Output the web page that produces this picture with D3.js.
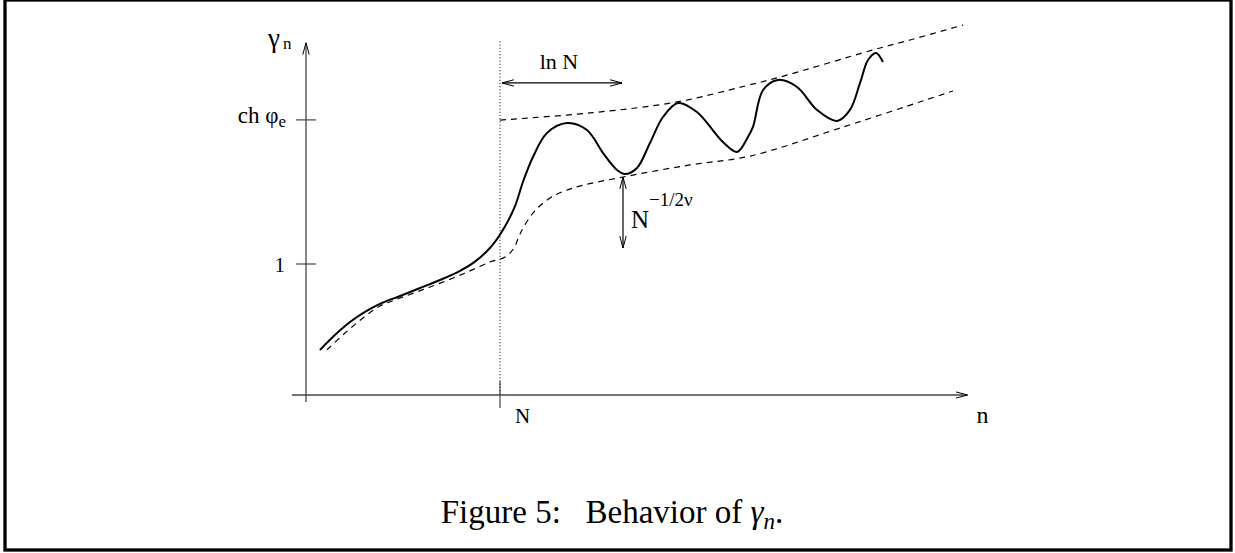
<!DOCTYPE html>
<html>
<head>
<meta charset="utf-8">
<script src="https://cdn.jsdelivr.net/npm/d3@7"></script>
<style>
  body { margin: 0; background: #fff; }
  text { font-family: "Liberation Serif", "Times New Roman", serif; fill: #000; }
</style>
</head>
<body>
<svg id="chart" width="1235" height="553"></svg>
<script>
// n in units of N, gamma in units where the "1" tick = 1
var solidCurve = [
  [0.072, 0.344], [0.149, 0.458], [0.227, 0.557], [0.304, 0.634], [0.381, 0.695],
  [0.485, 0.756], [0.588, 0.817], [0.691, 0.878], [0.794, 0.948], [0.871, 1.018],
  [0.948, 1.122], [1.015, 1.260], [1.077, 1.440], [1.119, 1.630], [1.170, 1.817],
  [1.242, 2.0], [1.345, 2.076], [1.448, 2.023], [1.531, 1.847], [1.603, 1.718],
  [1.644, 1.687], [1.706, 1.733], [1.773, 1.924], [1.840, 2.122], [1.918, 2.229],
  [2.015, 2.160], [2.149, 1.931], [2.222, 1.855], [2.278, 1.969], [2.304, 2.046],
  [2.356, 2.328], [2.433, 2.405], [2.531, 2.351], [2.634, 2.176], [2.737, 2.092],
  [2.804, 2.176], [2.856, 2.382], [2.897, 2.557], [2.938, 2.611], [2.974, 2.542]
];
var upperBound = [
  [1.0, 2.099], [1.464, 2.153], [1.912, 2.237], [2.263, 2.359], [2.443, 2.427],
  [2.923, 2.634], [3.113, 2.710], [3.387, 2.824]
];
var lowerBound = [
  [0.108, 0.344], [0.201, 0.473], [0.294, 0.588], [0.381, 0.679], [0.485, 0.740],
  [0.639, 0.824], [0.809, 0.924], [0.948, 1.015], [1.026, 1.053], [1.072, 1.122],
  [1.103, 1.229], [1.170, 1.389], [1.258, 1.504], [1.376, 1.580], [1.634, 1.664],
  [1.979, 1.756], [2.289, 1.824], [2.753, 2.038], [3.335, 2.321]
];
var yTicks = [1, 2.10];
var xTicks = [1];
var nN = 1;           // position of N on the n axis
var lnNSpan = [1.01, 1.629];
var lnNLevel = 2.382;
var gapAt = 1.634;
var gapSpan = [1.664, 1.122];

var svg = d3.select('#chart');

var x = d3.scaleLinear().domain([0, 1]).range([306, 500]);
var y = d3.scaleLinear().domain([0, 1]).range([395, 264]);

// frame
svg.append('rect')
  .attr('x', 5).attr('y', 0)
  .attr('width', 1226).attr('height', 550)
  .attr('fill', 'none').attr('stroke', '#000').attr('stroke-width', 3.3);

var defs = svg.append('defs');
defs.append('marker')
  .attr('id', 'head')
  .attr('viewBox', '0 0 12 8')
  .attr('refX', 12).attr('refY', 4)
  .attr('markerWidth', 12).attr('markerHeight', 8)
  .attr('markerUnits', 'userSpaceOnUse')
  .attr('orient', 'auto-start-reverse')
  .append('path')
  .attr('d', 'M0,0.8 L12,4 L0,7.2')
  .attr('fill', 'none').attr('stroke', '#000').attr('stroke-width', 1);

var axisColor = '#444';

// axes
svg.append('line')
  .attr('x1', x(-0.072)).attr('x2', x(3.41))
  .attr('y1', y(0)).attr('y2', y(0))
  .attr('stroke', axisColor).attr('stroke-width', 1.3)
  .attr('marker-end', 'url(#head)');
svg.append('line')
  .attr('x1', x(0)).attr('x2', x(0))
  .attr('y1', y(-0.053)).attr('y2', y(2.69))
  .attr('stroke', axisColor).attr('stroke-width', 1.3)
  .attr('marker-end', 'url(#head)');

// y ticks
svg.selectAll('.ytick').data(yTicks).enter().append('line')
  .attr('class', 'ytick')
  .attr('x1', x(0) - 10).attr('x2', x(0) + 10)
  .attr('y1', function(d) { return y(d); })
  .attr('y2', function(d) { return y(d); })
  .attr('stroke', axisColor).attr('stroke-width', 1.2);

// x tick at N
svg.selectAll('.xtick').data(xTicks).enter().append('line')
  .attr('class', 'xtick')
  .attr('x1', function(d) { return x(d); })
  .attr('x2', function(d) { return x(d); })
  .attr('y1', y(0) - 14).attr('y2', y(0) + 13)
  .attr('stroke', axisColor).attr('stroke-width', 1.2);

// dotted vertical line at N
svg.append('line')
  .attr('x1', x(nN)).attr('x2', x(nN))
  .attr('y1', y(2.7)).attr('y2', y(0))
  .attr('stroke', '#333').attr('stroke-width', 1.1)
  .attr('stroke-dasharray', '1.2,2');

// tick labels
svg.append('text')
  .attr('x', x(0) - 21).attr('y', y(1) + 7.5)
  .attr('text-anchor', 'end')
  .style('font-size', '21px')
  .text('1');

var chLabel = svg.append('text')
  .attr('x', x(0) - 20).attr('y', y(2.10) + 3.5)
  .attr('text-anchor', 'end')
  .style('font-size', '23px');
chLabel.append('tspan').text('ch \u03C6');
chLabel.append('tspan').attr('dy', 4).style('font-size', '17px').text('e');

var gLabel = svg.append('text')
  .attr('x', x(0) - 38).attr('y', y(2.655))
  .style('font-size', '27px');
gLabel.append('tspan').text('\u03B3');
gLabel.append('tspan').attr('dx', 3).attr('dy', 2).style('font-size', '17px').text('n');

svg.append('text')
  .attr('x', x(nN) + 15).attr('y', y(0) + 28)
  .style('font-size', '21px')
  .text('N');
svg.append('text')
  .attr('x', x(3.41) + 9).attr('y', y(0) + 28)
  .style('font-size', '24px')
  .text('n');

// curves
var line = d3.line()
  .x(function(d) { return x(d[0]); })
  .y(function(d) { return y(d[1]); })
  .curve(d3.curveCatmullRom.alpha(0.5));

svg.append('path')
  .attr('d', line(upperBound))
  .attr('fill', 'none').attr('stroke', '#000').attr('stroke-width', 1.2)
  .attr('stroke-dasharray', '6,5');
svg.append('path')
  .attr('d', line(lowerBound))
  .attr('fill', 'none').attr('stroke', '#000').attr('stroke-width', 1.2)
  .attr('stroke-dasharray', '6,5');
svg.append('path')
  .attr('d', line(solidCurve))
  .attr('fill', 'none').attr('stroke', '#000').attr('stroke-width', 2);

// ln N double arrow
svg.append('line')
  .attr('x1', x(lnNSpan[0])).attr('x2', x(lnNSpan[1]))
  .attr('y1', y(lnNLevel)).attr('y2', y(lnNLevel))
  .attr('stroke', '#000').attr('stroke-width', 1.2)
  .attr('marker-start', 'url(#head)')
  .attr('marker-end', 'url(#head)');
svg.append('text')
  .attr('x', x((lnNSpan[0] + lnNSpan[1]) / 2) - 3).attr('y', y(lnNLevel) - 14)
  .attr('text-anchor', 'middle')
  .style('font-size', '22px')
  .text('ln N');

// N^{-1/2 nu} gap arrow
svg.append('line')
  .attr('x1', x(gapAt)).attr('x2', x(gapAt))
  .attr('y1', y(gapSpan[0])).attr('y2', y(gapSpan[1]))
  .attr('stroke', '#000').attr('stroke-width', 1.2)
  .attr('marker-start', 'url(#head)')
  .attr('marker-end', 'url(#head)');
var gapLabel = svg.append('text')
  .attr('x', x(gapAt) + 8).attr('y', y(gapSpan[1]) - 20)
  .style('font-size', '25px');
gapLabel.append('tspan').text('N');
gapLabel.append('tspan').attr('dy', -22).style('font-size', '19px').text('\u22121/2\u03BD');

// caption
var cap = svg.append('text')
  .attr('x', 612).attr('y', 523)
  .attr('text-anchor', 'middle')
  .style('font-size', '33px');
cap.append('tspan').text('Figure 5:\u00A0\u00A0 Behavior of ');
cap.append('tspan').style('font-style', 'italic').text('\u03B3');
cap.append('tspan').attr('dy', 6).style('font-size', '23px').style('font-style', 'italic').text('n');
cap.append('tspan').attr('dy', -6).text('.');
</script>
</body>
</html>
